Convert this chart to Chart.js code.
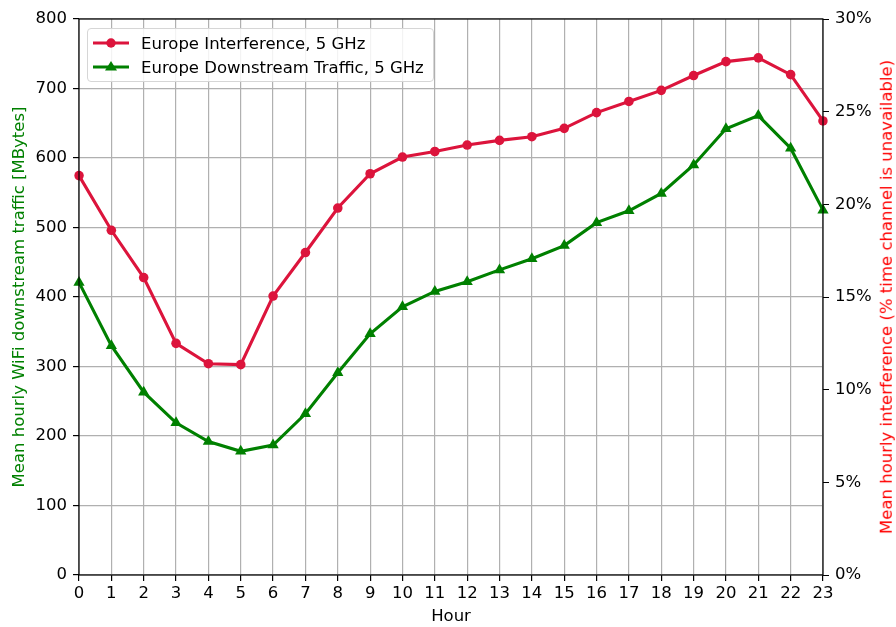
<!DOCTYPE html>
<html>
<head>
<meta charset="utf-8">
<script src="https://cdn.jsdelivr.net/npm/chart.js@4/dist/chart.umd.min.js"></script>
<style>
  body { margin: 0; background: #fff; }
  #wrap { position: relative; width: 896px; height: 627px; font-family: "DejaVu Sans", sans-serif; font-size: 16.5px; }
  #legend {
    position: absolute; left: 87px; top: 28px; width: 345px; height: 52px;
    border: 1px solid #d6d6d6; border-radius: 4px; background: rgba(255,255,255,0.85);
    color: #000;
  }
  .row { position: absolute; left: 4px; height: 20px; display: flex; align-items: center; white-space: nowrap; }
  .row svg { width: 38px; height: 20px; margin-right: 11px; }
  #rtitle {
    position: absolute; left: 887px; top: 297px; color: #ff0000; white-space: nowrap; line-height: 1;
    transform: translate(-50%, -50%) rotate(-90deg);
  }
</style>
</head>
<body>
<div id="wrap">
  <canvas id="chart" width="896" height="627"></canvas>
  <div id="legend">
    <div class="row" style="top:4px">
      <svg viewBox="0 0 38 20"><line x1="1" y1="10" x2="37" y2="10" stroke="#dc143c" stroke-width="3.1"/><circle cx="19" cy="10" r="4.7" fill="#dc143c"/></svg>
      <span>Europe Interference, 5 GHz</span>
    </div>
    <div class="row" style="top:28px">
      <svg viewBox="0 0 38 20"><line x1="1" y1="10" x2="37" y2="10" stroke="#008000" stroke-width="3.1"/><polygon points="19,4 25,13.5 13,13.5" fill="#008000"/></svg>
      <span>Europe Downstream Traffic, 5 GHz</span>
    </div>
  </div>
  <div id="rtitle">Mean hourly interference (% time channel is unavailable)</div>
</div>
<script>
var hours = ['0','1','2','3','4','5','6','7','8','9','10','11','12','13','14','15','16','17','18','19','20','21','22','23'];
// % of time the channel is unavailable
var interference = [21.55, 18.6, 16.05, 12.5, 11.4, 11.35, 15.05, 17.4, 19.8, 21.65, 22.55, 22.85,
                    23.2, 23.45, 23.65, 24.1, 24.95, 25.55, 26.15, 26.95, 27.7, 27.9, 27.0, 24.5];
// MBytes
var traffic = [421, 330, 263, 219, 192, 178, 187, 232, 291, 347, 386, 408,
               422, 439, 455, 474, 507, 524, 549, 590, 642, 661, 614, 525];

var font = { family: 'DejaVu Sans', size: 16.5 };

var frame = {
    id: 'frame',
    afterDraw: function(chart) {
        var a = chart.chartArea, c = chart.ctx;
        c.save();
        c.strokeStyle = '#000';
        c.lineWidth = 1.2;
        c.strokeRect(a.left, a.top, a.right - a.left, a.bottom - a.top);
        c.restore();
    }
};

var ctx = document.getElementById('chart');
var myChart = new Chart(ctx, {
    type: 'line',
    data: {
        labels: hours,
        datasets: [{
            label: 'Europe Interference, 5 GHz',
            data: interference,
            yAxisID: 'y1',
            borderColor: '#dc143c',
            backgroundColor: '#dc143c',
            borderWidth: 3.1,
            pointStyle: 'circle',
            pointRadius: 4.8,
            pointBorderWidth: 0,
            tension: 0
        }, {
            label: 'Europe Downstream Traffic, 5 GHz',
            data: traffic,
            yAxisID: 'y',
            borderColor: '#008000',
            backgroundColor: '#008000',
            borderWidth: 3.1,
            pointStyle: 'triangle',
            pointRadius: 6.5,
            pointBorderWidth: 0,
            tension: 0
        }]
    },
    options: {
        responsive: false,
        animation: false,
        devicePixelRatio: 1,
        layout: { padding: { top: 19, left: 0, right: 0, bottom: 0 } },
        plugins: {
            legend: { display: false },
            tooltip: { enabled: false }
        },
        scales: {
            x: {
                offset: false,
                afterFit: function(s) { s.height = 52; },
                grid: { color: '#b0b0b0', lineWidth: 1.2, tickColor: '#000', tickLength: 6 },
                border: { display: false },
                ticks: { font: font, color: '#000', padding: 3, autoSkip: false, maxRotation: 0 },
                title: { display: true, text: 'Hour', font: font, color: '#000', padding: { top: 0, bottom: 0 } }
            },
            y: {
                position: 'left',
                min: 0, max: 800,
                afterFit: function(s) { s.width = 79; },
                grid: { color: '#b0b0b0', lineWidth: 1.2, tickColor: '#000', tickLength: 6 },
                border: { display: false },
                ticks: { stepSize: 100, font: font, color: '#000', padding: 6 },
                title: { display: true, text: 'Mean hourly WiFi downstream traffic [MBytes]', font: font, color: '#008000', padding: { top: 10, bottom: 0 } }
            },
            y1: {
                position: 'right',
                min: 0, max: 30,
                afterFit: function(s) { s.width = 73; },
                grid: { drawOnChartArea: false, tickColor: '#000', tickLength: 6 },
                border: { display: false },
                ticks: { stepSize: 5, font: font, color: '#000', padding: 6,
                         callback: function(v) { return v + '%'; } }
            }
        }
    },
    plugins: [frame]
});
</script>
</body>
</html>
